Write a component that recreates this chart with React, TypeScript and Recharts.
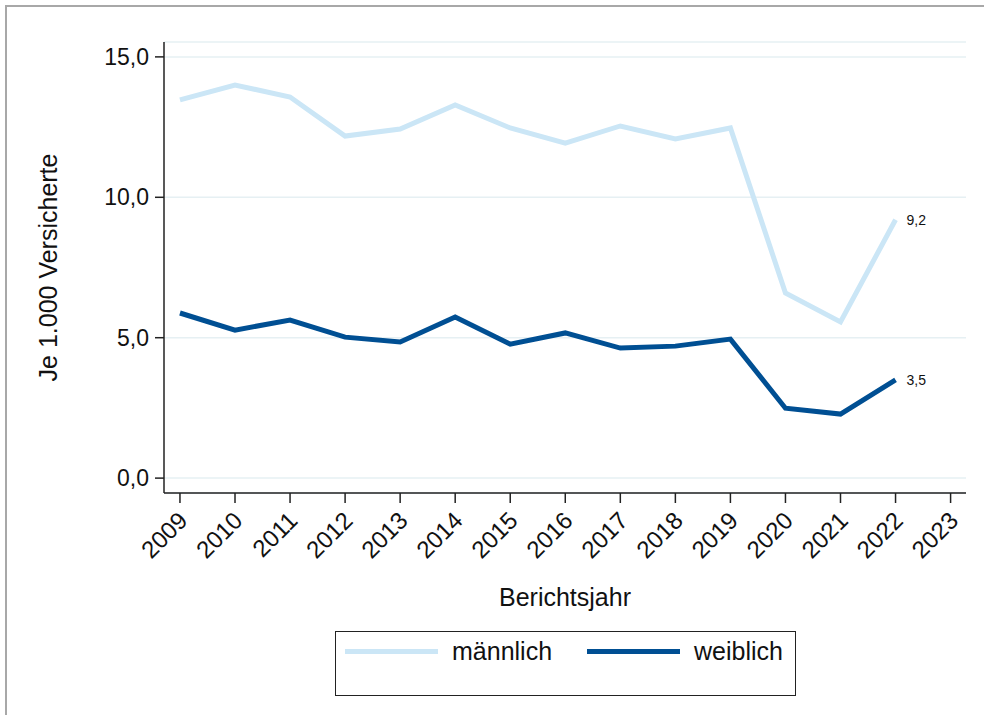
import React from "react";
import {
  CartesianGrid,
  LabelList,
  Legend,
  Line,
  LineChart,
  XAxis,
  YAxis,
} from "recharts";

const years = [2009, 2010, 2011, 2012, 2013, 2014, 2015, 2016, 2017, 2018, 2019, 2020, 2021, 2022];
const maennlich = [13.47, 14.0, 13.57, 12.18, 12.43, 13.29, 12.47, 11.93, 12.54, 12.08, 12.47, 6.59, 5.56, 9.2];
const weiblich = [5.88, 5.27, 5.63, 5.02, 4.85, 5.74, 4.77, 5.17, 4.63, 4.7, 4.95, 2.49, 2.28, 3.5];
const xTicks = [2009, 2010, 2011, 2012, 2013, 2014, 2015, 2016, 2017, 2018, 2019, 2020, 2021, 2022, 2023];
const yTicks = [0, 5, 10, 15];

const LIGHT = "#cbe6f6";
const DARK = "#004f93";
const FONT = "'Liberation Sans', Arial, Helvetica, sans-serif";

const data = years.map((year, i) => ({ year, m: maennlich[i], w: weiblich[i] }));

const de = (v: number) => v.toFixed(1).replace(".", ",");

function YearTick({ x, y, payload }: any) {
  const ax = x + 3;
  const ay = y + 11;
  return (
    <text
      x={ax}
      y={ay}
      transform={`rotate(-45 ${ax} ${ay})`}
      textAnchor="end"
      dominantBaseline="central"
      fontSize={24}
      fill="#111"
      fontFamily={FONT}
    >
      {payload.value}
    </text>
  );
}

function EndLabel({ x, y, value, index }: any) {
  if (index !== years.length - 1) return null;
  return (
    <text x={x + 11} y={y} dominantBaseline="central" fontSize={14} fill="#111" fontFamily={FONT}>
      {de(value)}
    </text>
  );
}

function LegendBox({ payload }: any) {
  return (
    <div
      style={{
        width: 461,
        height: 65,
        border: "1.5px solid #222",
        boxSizing: "border-box",
        display: "flex",
        alignItems: "flex-start",
        paddingTop: 5,
        fontFamily: FONT,
        fontSize: 25,
        color: "#111",
      }}
    >
      {(payload || []).map((p: any, i: number) => (
        <div key={p.value} style={{ display: "flex", alignItems: "center", marginLeft: i === 0 ? 9 : 35 }}>
          <div style={{ width: 93, height: 5, background: p.color }} />
          <span style={{ marginLeft: 14 }}>{p.value}</span>
        </div>
      ))}
    </div>
  );
}

export default function App() {
  return (
    <div style={{ position: "absolute", left: 0, top: 0, width: 984, height: 715, background: "#fff", overflow: "hidden" }}>
      <div
        style={{
          position: "absolute",
          left: 5,
          top: 5,
          width: 1000,
          height: 740,
          border: "2px solid #a8a8a8",
          boxSizing: "border-box",
        }}
      />
      <LineChart
        width={984}
        height={715}
        data={data}
        margin={{ top: 42, right: 18, left: 0, bottom: 0 }}
        style={{ position: "absolute", left: 0, top: 0 }}
      >
        <CartesianGrid horizontal vertical={false} stroke="#e6f0f3" strokeWidth={1.5} />
        <XAxis
          dataKey="year"
          type="number"
          domain={[2008.71, 2023.28]}
          ticks={xTicks}
          interval={0}
          height={222}
          tick={<YearTick />}
          tickSize={10}
          tickLine={{ stroke: "#222", strokeWidth: 1.5 }}
          axisLine={{ stroke: "#222", strokeWidth: 1.5 }}
          label={{
            value: "Berichtsjahr",
            position: "insideTop",
            offset: 95,
            fontSize: 25,
            fill: "#111",
            fontFamily: FONT,
          }}
        />
        <YAxis
          type="number"
          domain={[-0.53, 15.53]}
          ticks={yTicks}
          width={164}
          tickFormatter={de}
          tickSize={9}
          tick={{ fontSize: 23, fill: "#111", fontFamily: FONT, dx: -4 }}
          tickLine={{ stroke: "#222", strokeWidth: 1.5 }}
          axisLine={{ stroke: "#222", strokeWidth: 1.5 }}
          label={{
            value: "Je 1.000 Versicherte",
            angle: -90,
            position: "insideLeft",
            offset: 48,
            fontSize: 25,
            fill: "#111",
            fontFamily: FONT,
            style: { textAnchor: "middle" },
          }}
        />
        <Legend
          layout="horizontal"
          verticalAlign="middle"
          align="center"
          wrapperStyle={{ position: "absolute", left: 335, top: 631, width: 461 }}
          content={<LegendBox />}
        />
        <Line
          dataKey="m"
          name="männlich"
          stroke={LIGHT}
          strokeWidth={5}
          dot={false}
          activeDot={false}
          strokeLinejoin="miter"
          isAnimationActive={false}
        >
          <LabelList dataKey="m" content={<EndLabel />} />
        </Line>
        <Line
          dataKey="w"
          name="weiblich"
          stroke={DARK}
          strokeWidth={5}
          dot={false}
          activeDot={false}
          strokeLinejoin="miter"
          isAnimationActive={false}
        >
          <LabelList dataKey="w" content={<EndLabel />} />
        </Line>
      </LineChart>
    </div>
  );
}
